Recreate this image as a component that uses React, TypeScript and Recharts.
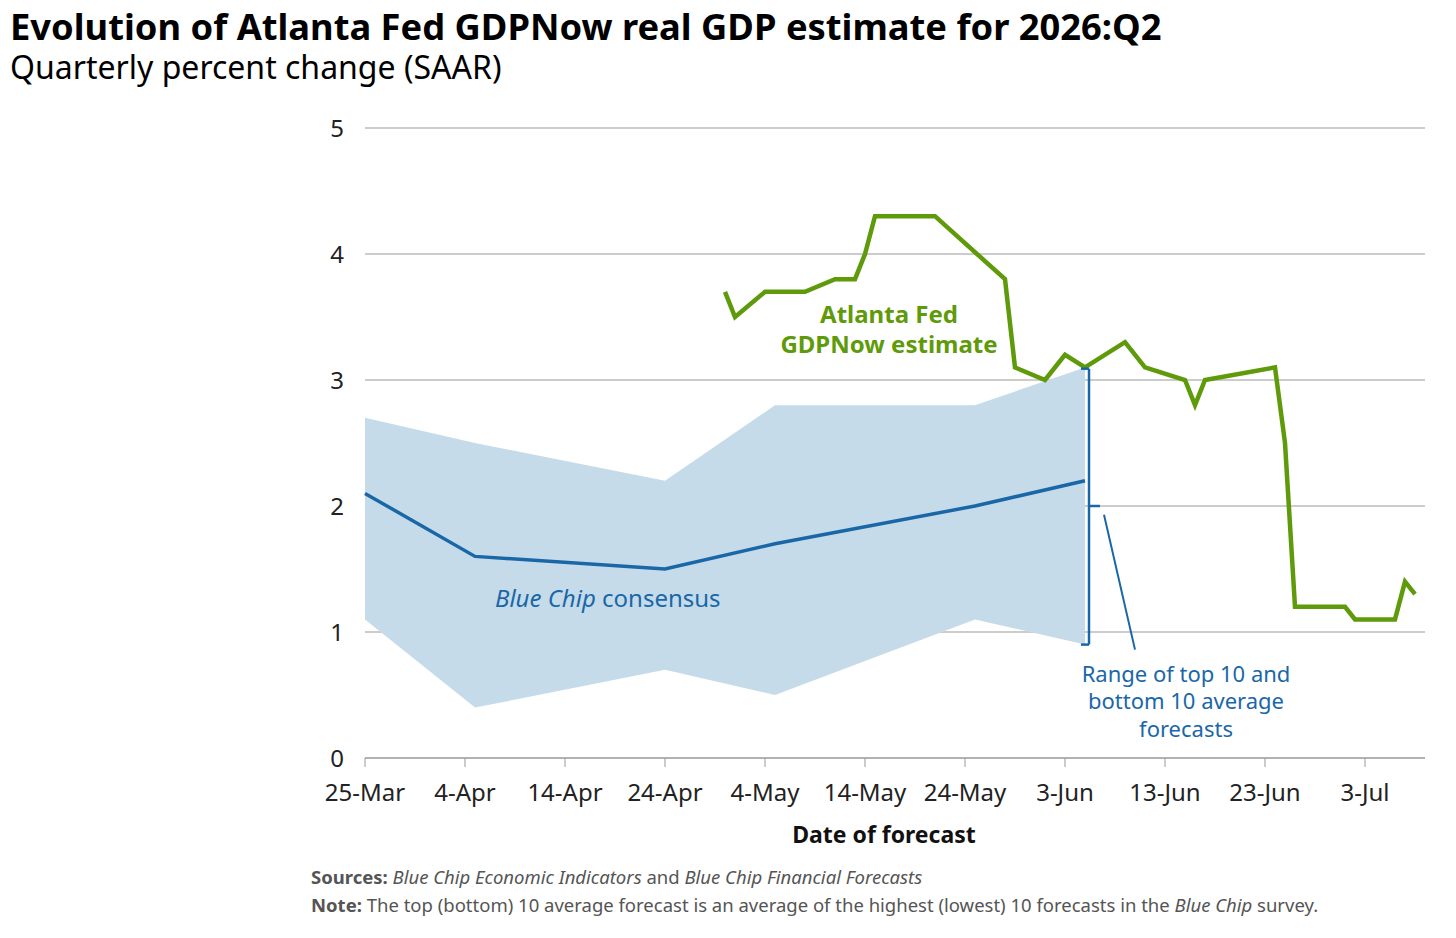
import React from 'react';
import { ComposedChart, Area, Line, XAxis, YAxis, CartesianGrid, ReferenceLine } from 'recharts';

// days counted from 25-Mar
const tickDays = [0, 10, 20, 30, 40, 50, 60, 70, 80, 90, 100];
const tickLabels = ['25-Mar', '4-Apr', '14-Apr', '24-Apr', '4-May', '14-May', '24-May', '3-Jun', '13-Jun', '23-Jun', '3-Jul'];
const yTicks = [0, 1, 2, 3, 4, 5];

const blueChipDays = [0, 11, 30, 41, 61, 72];
const consensus = [2.1, 1.6, 1.5, 1.7, 2.0, 2.2];
const top10 = [2.7, 2.5, 2.2, 2.8, 2.8, 3.1];
const bottom10 = [1.1, 0.4, 0.7, 0.5, 1.1, 0.9];

const gdpNowDays = [36, 37, 40, 44, 47, 49, 50, 51, 57, 64, 65, 68, 70, 72, 76, 78, 82, 83, 84, 91, 92, 93, 98, 99, 103, 104, 105];
const gdpNowValues = [3.7, 3.5, 3.7, 3.7, 3.8, 3.8, 4.0, 4.3, 4.3, 3.8, 3.1, 3.0, 3.2, 3.1, 3.3, 3.1, 3.0, 2.8, 3.0, 3.1, 2.5, 1.2, 1.2, 1.1, 1.1, 1.4, 1.3];

const GREEN = '#5f9a0a';
const BLUE = '#1a67a8';
const FILL = '#c5dbea';
const FONT = '"Noto Sans", sans-serif';

const blueChipRows = blueChipDays.map((d, i) => ({
  day: d,
  consensus: consensus[i],
  range: [bottom10[i], top10[i]],
}));
const gdpNowRows = gdpNowDays.map((d, i) => ({ day: d, gdpNow: gdpNowValues[i] }));

const App: React.FC = () => {
  return (
    <div style={{ position: 'absolute', left: 0, top: 0, width: 1456, height: 938, background: '#fff', fontFamily: FONT }}>
      <ComposedChart
        width={1456}
        height={938}
        data={blueChipRows}
        margin={{ top: 128, right: 31, left: 305, bottom: 150 }}
      >
        <XAxis
          dataKey="day"
          type="number"
          domain={[0, 106]}
          ticks={tickDays}
          tickFormatter={(v) => tickLabels[tickDays.indexOf(v)]}
          height={30}
          tickSize={9}
          tickMargin={17}
          stroke="#999"
          tick={{ fill: '#222', fontSize: 24, fontFamily: FONT }}
          interval={0}
        />
        <YAxis
          type="number"
          domain={[0, 5]}
          ticks={yTicks}
          width={60}
          axisLine={false}
          tickLine={false}
          tickMargin={15}
          tick={{ fill: '#222', fontSize: 24, fontFamily: FONT }}
        />
        <Area dataKey="range" stroke="none" fill={FILL} fillOpacity={1} type="linear" isAnimationActive={false} />
        <CartesianGrid vertical={false} stroke="#999" strokeWidth={1.2} />
        <Line dataKey="consensus" stroke={BLUE} strokeWidth={3.5} dot={false} type="linear" isAnimationActive={false} />
        <Line data={gdpNowRows} dataKey="gdpNow" stroke={GREEN} strokeWidth={4.5} dot={false} type="linear" strokeLinejoin="miter" isAnimationActive={false} />
        {/* range bracket and leader line */}
        <ReferenceLine segment={[{ x: 72.4, y: 3.09 }, { x: 72.4, y: 0.9 }]} stroke={BLUE} strokeWidth={2.5} />
        <ReferenceLine segment={[{ x: 71.6, y: 3.09 }, { x: 72.4, y: 3.09 }]} stroke={BLUE} strokeWidth={2.5} />
        <ReferenceLine segment={[{ x: 71.6, y: 0.9 }, { x: 72.4, y: 0.9 }]} stroke={BLUE} strokeWidth={2.5} />
        <ReferenceLine segment={[{ x: 72.4, y: 2.0 }, { x: 73.5, y: 2.0 }]} stroke={BLUE} strokeWidth={2.5} />
        <ReferenceLine segment={[{ x: 73.9, y: 1.93 }, { x: 77.0, y: 0.86 }]} stroke={BLUE} strokeWidth={2} />
      </ComposedChart>
      <svg width={1456} height={938} style={{ position: 'absolute', left: 0, top: 0, pointerEvents: 'none' }} fontFamily={FONT}>
        <text x={10} y={40} fontSize={36.3} fontWeight={700} fill="#000">
          Evolution of Atlanta Fed GDPNow real GDP estimate for 2026:Q2
        </text>
        <text x={10} y={79} fontSize={32} fill="#000">Quarterly percent change (SAAR)</text>
        <text x={889} y={323} fontSize={24} fontWeight={700} fill={GREEN} textAnchor="middle">Atlanta Fed</text>
        <text x={889} y={353} fontSize={24} fontWeight={700} fill={GREEN} textAnchor="middle">GDPNow estimate</text>
        <text x={495} y={607} fontSize={24} fill={BLUE}>
          <tspan fontStyle="italic">Blue Chip</tspan> consensus
        </text>
        <text x={1186} y={682} fontSize={22} fill={BLUE} textAnchor="middle">Range of top 10 and</text>
        <text x={1186} y={709} fontSize={22} fill={BLUE} textAnchor="middle">bottom 10 average</text>
        <text x={1186} y={737} fontSize={22} fill={BLUE} textAnchor="middle">forecasts</text>
        <text x={884} y={843} fontSize={23} fontWeight={700} fill="#111" textAnchor="middle">Date of forecast</text>
        <text x={311} y={884} fontSize={18.5} fill="#555">
          <tspan fontWeight={700}>Sources:</tspan>
          <tspan fontStyle="italic"> Blue Chip Economic Indicators</tspan> and
          <tspan fontStyle="italic"> Blue Chip Financial Forecasts</tspan>
        </text>
        <text x={311} y={912} fontSize={18.5} fill="#555">
          <tspan fontWeight={700}>Note:</tspan> The top (bottom) 10 average forecast is an average of the highest (lowest) 10 forecasts in the
          <tspan fontStyle="italic"> Blue Chip</tspan> survey.
        </text>
      </svg>
    </div>
  );
};

export default App;
